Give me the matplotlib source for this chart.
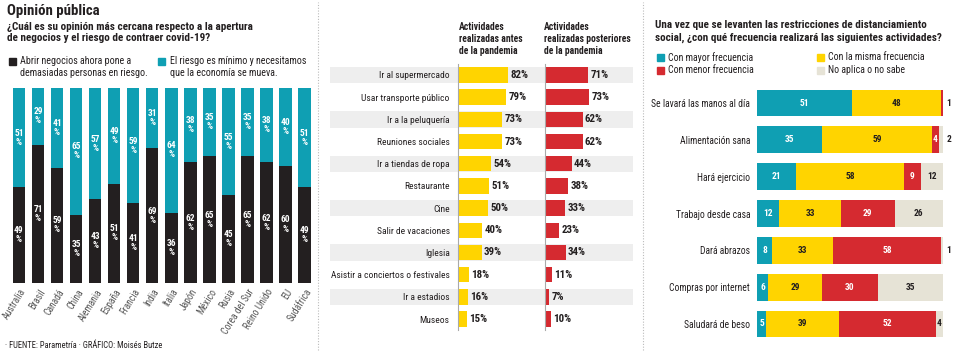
import numpy as np
import matplotlib
matplotlib.use("Agg")
import matplotlib.pyplot as plt
from matplotlib import font_manager as fm
from matplotlib.patches import Rectangle

W, H = 958, 352
TEAL = "#0f9fb3"
BLACK = "#231f20"
YELLOW = "#ffd400"
RED = "#d52a30"
BEIGE = "#e6e3d6"
TXT = "#231f20"

# --- panel 1 data ---
paises = ["Australia", "Brasil", "Canadá", "China", "Alemania", "España", "Francia",
          "India", "Italia", "Japón", "México", "Rusia", "Corea del Sur",
          "Reino Unido", "EU", "Sudáfrica"]
riesgo_alto = [49, 71, 59, 35, 43, 51, 41, 69, 36, 62, 65, 45, 65, 62, 60, 49]
riesgo_min = [51, 29, 41, 65, 57, 49, 59, 31, 64, 38, 35, 55, 35, 38, 40, 51]

# --- panel 2 data ---
actividades = ["Ir al supermercado", "Usar transporte público", "Ir a la peluquería",
               "Reuniones sociales", "Ir a tiendas de ropa", "Restaurante", "Cine",
               "Salir de vacaciones", "Iglesia", "Asistir a conciertos o festivales",
               "Ir a estadios", "Museos"]
antes = [82, 79, 73, 73, 54, 51, 50, 40, 39, 18, 16, 15]
despues = [71, 73, 62, 62, 44, 38, 33, 23, 34, 11, 7, 10]

# --- panel 3 data ---
acciones = ["Se lavará las manos al día", "Alimentación sana", "Hará ejercicio",
            "Trabajo desde casa", "Dará abrazos", "Compras por internet",
            "Saludará de beso"]
mayor = [51, 35, 21, 12, 8, 6, 5]
misma = [48, 59, 58, 33, 33, 29, 39]
menor = [1, 4, 9, 29, 58, 30, 52]
no_sabe = [0, 2, 12, 26, 1, 35, 4]
series_names = ["Con mayor frecuencia", "Con la misma frecuencia",
                "Con menor frecuencia", "No aplica o no sabe"]


# pick a narrow font if one is installed
def pick_family():
    cands = [("Noto Sans SemiCondensed", "normal"), ("Noto Sans", "semi-condensed"),
             ("Noto Sans Condensed", "normal"), ("Liberation Sans Narrow", "normal"),
             ("Roboto Condensed", "normal"), ("Open Sans", "condensed")]
    for fam, st in cands:
        try:
            p = fm.findfont(fm.FontProperties(family=fam, stretch=st),
                            fallback_to_default=False)
        except Exception:
            continue
        if "narrow" in p.lower() or "cond" in p.lower():
            return fam, st
    return "Lato", "normal"


FAM, ST = pick_family()
plt.rcParams['font.family'] = [FAM, 'DejaVu Sans']
plt.rcParams['font.stretch'] = ST


def px_axes(fig, x0, y0, x1, y1):
    return fig.add_axes([x0 / W, 1 - y1 / H, (x1 - x0) / W, (y1 - y0) / H])


fig = plt.figure(figsize=(W / 100, H / 100), dpi=100)
fig.patch.set_facecolor("white")
rend = fig.canvas.get_renderer()


def fit(s, target, weight="normal"):
    # font size (pt) that makes string s about target px wide
    prop = fm.FontProperties(family=[FAM, 'DejaVu Sans'], stretch=ST, weight=weight, size=10)
    w = rend.get_text_width_height_descent(s, prop, ismath=False)[0]
    return 10 * target / w


def ftext(x, y, s, **kw):
    kw.setdefault("color", TXT)
    kw.setdefault("ha", "left")
    kw.setdefault("va", "center")
    return fig.text(x / W, 1 - y / H, s, **kw)


def fsquare(x, y, c, size=7):
    fig.patches.append(Rectangle((x / W, 1 - (y + size) / H), size / W, size / H,
                                 color=c, transform=fig.transFigure, figure=fig))


fs_title = fit("Opinión pública", 93, "bold")
fs_sub = fit("¿Cuál es su opinión más cercana respecto a la apertura", 245, "bold")
fs_leg1 = fit("El riesgo es mínimo y necesitamos", 136)
fs_act = fit("Asistir a conciertos o festivales", 117)
fs_head = fit("realizadas posteriores", 86, "bold")
fs_t3 = fit("social, ¿con qué frecuencia realizará las siguientes actividades?", 288, "bold")
fs_leg3 = fit("Con mayor frecuencia", 85)
fs_cat3 = fit("Compras por internet", 80)
fs_foot = fit("· FUENTE: Parametría · GRÁFICO: Moisés Butze", 158)
fs_pais = fit("Australia", 34)
fs_pct = fit("82%", 18, "bold")
fs_num = fit("51", 9.5, "bold")

# ---------------- panel 1 ----------------
ftext(7, 10.5, "Opinión pública", fontsize=fs_title, fontweight="bold")
ftext(7, 26.5, "¿Cuál es su opinión más cercana respecto a la apertura",
      fontsize=fs_sub, fontweight="bold")
ftext(7, 38, "de negocios y el riesgo de contraer covid-19?", fontsize=fs_sub, fontweight="bold")
fsquare(8.5, 57.5, BLACK)
ftext(20, 61, "Abrir negocios ahora pone a", fontsize=fs_leg1)
ftext(20, 72.5, "demasiadas personas en riesgo.", fontsize=fs_leg1)
fsquare(158, 57.5, TEAL)
ftext(170, 61, "El riesgo es mínimo y necesitamos", fontsize=fs_leg1)
ftext(170, 72.5, "que la economía se mueva.", fontsize=fs_leg1)

ax1 = px_axes(fig, 9.4, 88, 314, 283)
x = np.arange(len(paises))
ax1.bar(x, riesgo_alto, width=0.66, color=BLACK)
ax1.bar(x, riesgo_min, width=0.66, bottom=riesgo_alto, color=TEAL)
for i in range(len(paises)):
    ax1.text(x[i], riesgo_alto[i] / 2, f"{riesgo_alto[i]}\n%", ha="center", va="center",
             color="white", fontsize=fs_num, fontweight="bold", linespacing=1.0)
    ax1.text(x[i], riesgo_alto[i] + riesgo_min[i] / 2, f"{riesgo_min[i]}\n%", ha="center",
             va="center", color="white", fontsize=fs_num, fontweight="bold", linespacing=1.0)
ax1.set_xlim(-0.5, len(paises) - 0.5)
ax1.set_ylim(0, 100)
ax1.set_yticks([])
ax1.set_xticks(x + 0.25)
ax1.set_xticklabels(paises, rotation=58, ha="right", va="center", fontsize=fs_pais,
                    color="#555555", rotation_mode="anchor")
ax1.tick_params(axis="x", length=0, pad=5)
for s in ax1.spines.values():
    s.set_visible(False)

ftext(5, 345, "· FUENTE: Parametría · GRÁFICO: Moisés Butze", fontsize=fs_foot)

# separators
for sx in (318, 643):
    fig.add_artist(plt.Line2D([sx / W, sx / W], [0.005, 0.995], color="#bbbbbb",
                              linestyle=(0, (1, 1.5)), linewidth=0.8))

# ---------------- panel 2 ----------------
n2 = len(actividades)
row_y = np.arange(n2)
bg = px_axes(fig, 330, 63.9, 633, 330.1)
bg.set_xlim(0, 1)
bg.set_ylim(n2 - 0.5, -0.5)
for i in range(0, n2, 2):
    bg.axhspan(i - 0.37, i + 0.37, color="#eeeeee", lw=0)
bg.axis("off")

scale = 0.606  # px per percent
axa = px_axes(fig, 458, 63.9, 458 + 100 * scale, 330.1)
axb = px_axes(fig, 545, 63.9, 545 + 100 * scale, 330.1)
for ax, vals, col in ((axa, antes, YELLOW), (axb, despues, RED)):
    ax.patch.set_alpha(0)
    ax.barh(row_y, vals, height=0.7, color=col)
    for i, v in enumerate(vals):
        ax.text(v + 4, i, f"{v}%", va="center", ha="left", fontsize=fs_pct,
                fontweight="bold", color=TXT)
    ax.set_xlim(0, 100)
    ax.set_ylim(n2 - 0.5, -0.5)
    ax.set_xticks([])
    ax.set_yticks([])
    for k, s in ax.spines.items():
        s.set_visible(k == "left")
    ax.spines["left"].set_color("#aaaaaa")
    ax.spines["left"].set_linewidth(0.8)
axa.set_yticks(row_y)
axa.set_yticklabels(actividades, fontsize=fs_act, color=TXT)
axa.tick_params(axis="y", length=0, pad=6)

for j, line in enumerate(["Actividades", "realizadas antes", "de la pandemia"]):
    ftext(459, 27 + 12 * j, line, fontsize=fs_head, fontweight="bold")
for j, line in enumerate(["Actividades", "realizadas posteriores", "de la pandemia"]):
    ftext(544, 27 + 12 * j, line, fontsize=fs_head, fontweight="bold")

# ---------------- panel 3 ----------------
ftext(655, 25.5, "Una vez que se levanten las restricciones de distanciamiento",
      fontsize=fs_t3, fontweight="bold")
ftext(655, 37.5, "social, ¿con qué frecuencia realizará las siguientes actividades?",
      fontsize=fs_t3, fontweight="bold")
leg_pos = [(657, 57.5), (817, 57.5), (657, 70), (817, 70)]
cols3 = [TEAL, YELLOW, RED, BEIGE]
for (lx, ly), c, name in zip(leg_pos, cols3, series_names):
    fsquare(lx, ly - 3.5, c)
    ftext(lx + 11, ly, name, fontsize=fs_leg3)

ax3 = px_axes(fig, 757, 84.6, 943, 342.4)
n3 = len(acciones)
yy = np.arange(n3)
left = np.zeros(n3)
txt_cols = ["white", TXT, "white", TXT]
for vals, c, tc in zip((mayor, misma, menor, no_sabe), cols3, txt_cols):
    vals = np.array(vals)
    ax3.barh(yy, vals, left=left, height=0.73, color=c)
    for i, v in enumerate(vals):
        if v == 0:
            continue
        if v <= 2:
            ax3.text(102, i, str(v), va="center", ha="left", fontsize=fs_num,
                     fontweight="bold", color=TXT)
        else:
            ax3.text(left[i] + v / 2, i, str(v), va="center", ha="center", fontsize=fs_num,
                     fontweight="bold", color=tc)
    left += vals
ax3.set_xlim(0, 100)
ax3.set_ylim(n3 - 0.5, -0.5)
ax3.set_xticks([])
ax3.set_yticks(yy)
ax3.set_yticklabels(acciones, fontsize=fs_cat3, color=TXT)
ax3.tick_params(axis="y", length=0, pad=5)
for s in ax3.spines.values():
    s.set_visible(False)
ax3.patch.set_alpha(0)

fig.savefig("out.png", dpi=100, facecolor="white")
